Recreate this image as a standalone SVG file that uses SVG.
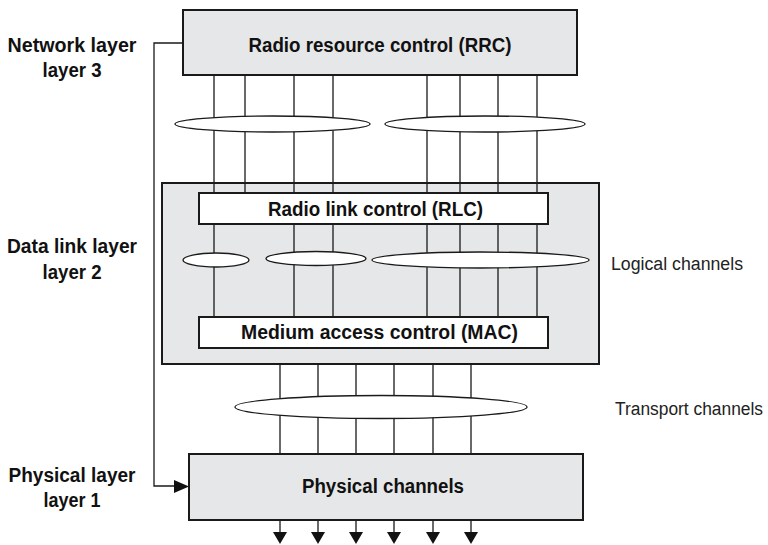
<svg xmlns="http://www.w3.org/2000/svg" width="768" height="545" viewBox="0 0 768 545">
<defs>
<style>
.box{fill:#e6e7e8;stroke:#1a1a1a;stroke-width:2}
.wbox{fill:#ffffff;stroke:#1a1a1a;stroke-width:2}
.ln{stroke:#1a1a1a;stroke-width:1.3;fill:none}
.ell{fill:#ffffff;stroke:#1a1a1a;stroke-width:1.3}
.b{font-family:"Liberation Sans",Arial,sans-serif;font-weight:bold;font-size:20px;fill:#111}
.lab{font-family:"Liberation Sans",Arial,sans-serif;font-weight:bold;font-size:20px;fill:#111;text-anchor:middle}
.r{font-family:"Liberation Sans",Arial,sans-serif;font-size:18px;fill:#222}
</style>
</defs>

<g id="labels">
<text class="lab" x="72" y="52" textLength="129" lengthAdjust="spacingAndGlyphs">Network layer</text>
<text class="lab" x="72" y="77" textLength="59" lengthAdjust="spacingAndGlyphs">layer 3</text>
<text class="lab" x="72" y="253" textLength="130" lengthAdjust="spacingAndGlyphs">Data link layer</text>
<text class="lab" x="72" y="279" textLength="59" lengthAdjust="spacingAndGlyphs">layer 2</text>
<text class="lab" x="72" y="482" textLength="127" lengthAdjust="spacingAndGlyphs">Physical layer</text>
<text class="lab" x="72" y="507" textLength="57" lengthAdjust="spacingAndGlyphs">layer 1</text>
<text class="r" x="611" y="270" textLength="132" lengthAdjust="spacingAndGlyphs">Logical channels</text>
<text class="r" x="615" y="415" textLength="148" lengthAdjust="spacingAndGlyphs">Transport channels</text>
</g>

<g id="datalink">
<rect class="box" x="162" y="183" width="437" height="181"/>
</g>

<g id="connectors">
<path class="ln" d="M214,75V193 M245,75V193 M294,75V193 M333,75V193 M427,75V193 M460,75V193 M498,75V193 M537,75V193"/>
<path class="ln" d="M214,224V317 M294,224V317 M333,224V317 M427,224V317 M460,224V317 M498,224V317 M537,224V317"/>
<path class="ln" d="M280,364V454 M318,364V454 M356,364V454 M394,364V454 M433,364V454 M471,364V454"/>
<path class="ln" d="M280,520V532 M318,520V532 M356,520V532 M394,520V532 M433,520V532 M471,520V532"/>
<g fill="#111">
<path d="M273,532H287L280,544Z"/>
<path d="M311,532H325L318,544Z"/>
<path d="M349,532H363L356,544Z"/>
<path d="M387,532H401L394,544Z"/>
<path d="M426,532H440L433,544Z"/>
<path d="M464,532H478L471,544Z"/>
</g>
<path class="ln" d="M183,43H154V486H175"/>
<path d="M174,480L189,486.5L174,493Z" fill="#111"/>
<ellipse class="ell" cx="272.5" cy="124" rx="97.5" ry="8"/>
<ellipse class="ell" cx="485" cy="124" rx="100" ry="8"/>
<ellipse class="ell" cx="216" cy="260" rx="33" ry="7"/>
<ellipse class="ell" cx="316" cy="258.5" rx="50" ry="7"/>
<ellipse class="ell" cx="480.5" cy="260" rx="108.5" ry="8"/>
<ellipse class="ell" cx="381" cy="407" rx="146" ry="11.5"/>
</g>

<g id="rrc">
<rect class="box" x="183" y="10" width="394" height="65"/>
<text class="b" x="380" y="52" text-anchor="middle" textLength="263" lengthAdjust="spacingAndGlyphs">Radio resource control (RRC)</text>
</g>

<g id="rlc">
<rect class="wbox" x="199" y="193" width="349" height="31"/>
<text class="b" x="375.5" y="216" text-anchor="middle" textLength="215" lengthAdjust="spacingAndGlyphs">Radio link control (RLC)</text>
</g>

<g id="mac">
<rect class="wbox" x="199" y="317" width="349" height="31"/>
<text class="b" x="379.5" y="339" text-anchor="middle" textLength="277" lengthAdjust="spacingAndGlyphs">Medium access control (MAC)</text>
</g>

<g id="physical">
<rect class="box" x="189" y="454" width="394" height="66"/>
<text class="b" x="383" y="493" text-anchor="middle" textLength="162" lengthAdjust="spacingAndGlyphs">Physical channels</text>
</g>
</svg>
